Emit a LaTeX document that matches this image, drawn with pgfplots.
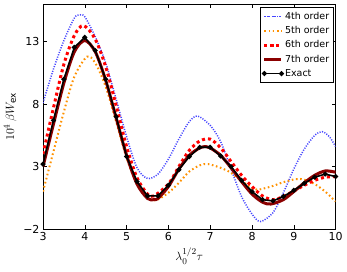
\documentclass[border=0pt]{standalone}
\usepackage{pgfplots}
\pgfplotsset{compat=1.18}
\usepackage{fontspec}
\setmainfont{DejaVu Sans}
\usetikzlibrary{calc}
\definecolor{myblue}{RGB}{70,70,255}
\definecolor{myorange}{RGB}{255,145,0}
\definecolor{mydarkred}{RGB}{139,0,0}
\pgfplotsset{exactlegend/.style={legend image code/.code={\draw[##1] plot coordinates {(0cm,0cm)(0.6cm,0cm)};}}}
\begin{document}
\begin{tikzpicture}
\begin{axis}[
  scale only axis, width=292.6pt, height=224.7pt,
  xmin=3, xmax=10, ymin=-2, ymax=16,
  xtick={3,4,5,6,7,8,9,10}, ytick={-2,3,8,13}, yticklabels={−2,3,8,13},
  tick align=inside, major tick length=4pt,
  tick style={black, line width=0.6pt},
  axis line style={line width=0.8pt},
  ticklabel style={font=\fontsize{11}{13}\selectfont},
  /pgf/number format/assume math mode=true,
  xlabel={$\lambda_0^{1/2}\tau$}, ylabel={$10^4\,\beta W_{\mathrm{ex}}$},
  label style={font=\fontsize{12.5}{14}\selectfont},
  legend style={at={(0.9945,0.9866)}, anchor=north east, font=\fontsize{9.5}{11}\selectfont,
    draw=black, line width=0.6pt, row sep=1.6pt, inner sep=2.5pt},
  legend cell align=left,
]
\addplot[myblue, line width=1.5pt, dash pattern=on 1.1pt off 1.4pt, smooth] coordinates {
(3.0,8.1)(3.25,10.8)(3.5,13.1)(3.75,14.9)(3.87,15.15)(4.0,15.0)(4.25,13.4)(4.5,11.3)(4.75,8.4)(5.0,5.4)(5.25,2.9)(5.5,2.05)(5.75,2.4)(6.0,3.6)(6.25,5.2)(6.5,6.6)(6.7,7.05)(7.0,6.3)(7.25,5.0)(7.5,2.8)(7.75,0.6)(8.0,-0.8)(8.2,-1.4)(8.5,-0.7)(8.75,0.9)(9.0,2.8)(9.25,4.4)(9.5,5.5)(9.68,5.8)(9.85,5.4)(10.0,4.6)};
\addlegendentry{4th order}
\addplot[myorange, line width=2pt, dash pattern=on 1.6pt off 2.6pt, smooth] coordinates {
(3.0,1.0)(3.25,4.2)(3.5,7.4)(3.75,10.2)(4.05,11.8)(4.25,11.3)(4.5,9.4)(4.75,6.6)(5.0,3.7)(5.25,1.6)(5.5,0.5)(5.7,0.3)(6.0,0.9)(6.25,1.7)(6.5,2.6)(6.75,3.1)(6.95,3.2)(7.25,2.9)(7.5,2.5)(7.75,1.85)(8.0,1.3)(8.15,1.15)(8.5,1.45)(8.75,1.75)(9.05,2.0)(9.25,1.95)(9.5,1.6)(9.75,1.0)(10.0,0.2)};
\addlegendentry{5th order}
\addplot[red, line width=3pt, dash pattern=on 3pt off 3pt, smooth] coordinates {
(3.0,4.0)(3.25,7.7)(3.5,11.2)(3.75,13.5)(3.97,14.3)(4.25,13.2)(4.5,11.0)(4.75,7.9)(5.0,4.6)(5.25,2.1)(5.5,0.8)(5.65,0.65)(6.0,1.6)(6.25,3.0)(6.5,4.3)(6.75,5.05)(7.0,5.2)(7.25,4.5)(7.5,3.4)(7.75,2.3)(8.0,1.4)(8.25,0.65)(8.5,0.35)(8.75,0.6)(9.0,1.05)(9.25,1.5)(9.5,1.9)(9.75,2.15)(10.0,2.2)};
\addlegendentry{6th order}
\addplot[mydarkred, line width=3pt, smooth] coordinates {
(3.0,3.0)(3.25,6.4)(3.5,9.7)(3.75,12.2)(4.0,13.1)(4.25,12.2)(4.5,9.9)(4.75,6.9)(5.0,3.9)(5.25,1.6)(5.5,0.45)(5.65,0.35)(5.75,0.45)(6.0,1.4)(6.25,2.8)(6.5,3.9)(6.75,4.5)(6.9,4.6)(7.0,4.5)(7.25,3.9)(7.5,2.9)(7.75,1.8)(8.0,0.8)(8.25,0.15)(8.45,0.0)(8.75,0.35)(9.0,1.0)(9.25,1.7)(9.5,2.3)(9.75,2.65)(10.0,2.55)};
\addlegendentry{7th order}
\addplot[black, line width=1.6pt, mark=*, mark size=1.6pt, exactlegend] coordinates {
(3.0,3.2)(3.25,6.7)(3.5,10.0)(3.75,12.55)(4.0,13.35)(4.25,12.3)(4.5,10.0)(4.75,7.0)(5.0,3.8)(5.25,1.8)(5.5,0.65)(5.75,0.65)(6.0,1.5)(6.25,2.75)(6.5,3.8)(6.75,4.55)(7.0,4.55)(7.25,3.85)(7.5,3.0)(7.75,1.9)(8.0,1.0)(8.25,0.35)(8.5,0.25)(8.75,0.6)(9.0,1.1)(9.25,1.65)(9.5,2.15)(9.75,2.4)(10.0,2.2)};
\addlegendentry{Exact}
\end{axis}
\pgfresetboundingbox
\path ($(current axis.south west)+(-43pt,-42pt)$) rectangle ($(current axis.north east)+(11.4pt,4.3pt)$);
\end{tikzpicture}
\end{document}
